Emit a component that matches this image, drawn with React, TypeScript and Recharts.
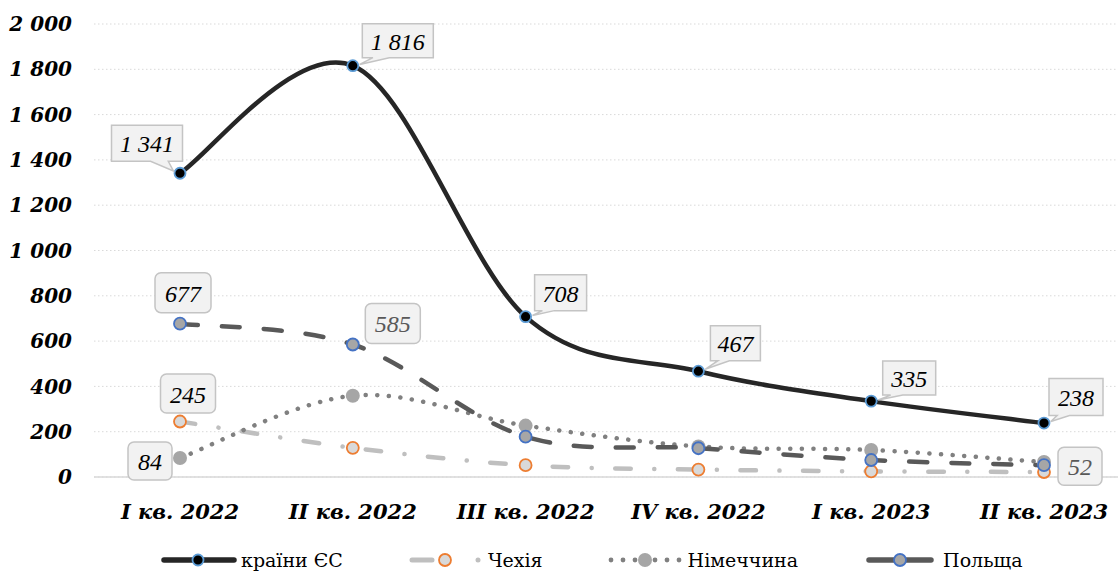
import React from 'react';
import { LineChart, Line, XAxis, YAxis, CartesianGrid, LabelList, Legend } from 'recharts';

const quarters = ['I кв. 2022', 'II кв. 2022', 'III кв. 2022', 'IV кв. 2022', 'I кв. 2023', 'II кв. 2023'];
const euValues = [1341, 1816, 708, 467, 335, 238];
const czechValues = [245, 129, 52, 33, 25, 22];
const germanyValues = [84, 359, 227, 135, 119, 66];
const polandValues = [677, 585, 178, 127, 75, 52];
const yTicks = [0, 200, 400, 600, 800, 1000, 1200, 1400, 1600, 1800, 2000];

const data = quarters.map((q, i) => ({
  quarter: q,
  eu: euValues[i],
  cz: czechValues[i],
  de: germanyValues[i],
  pl: polandValues[i],
}));

const fmt = (v: number) => String(v).replace(/\B(?=(\d{3})+(?!\d))/g, ' ');

// Excel-like smoothed line (Catmull-Rom through the points)
const smoothCurve: any = (context: any) => {
  let pts: number[][] = [];
  return {
    areaStart() {},
    areaEnd() {},
    lineStart() {
      pts = [];
    },
    point(x: number, y: number) {
      pts.push([+x, +y]);
    },
    lineEnd() {
      if (!pts.length) return;
      context.moveTo(pts[0][0], pts[0][1]);
      for (let i = 0; i < pts.length - 1; i++) {
        const p0 = pts[Math.max(i - 1, 0)];
        const p1 = pts[i];
        const p2 = pts[i + 1];
        const p3 = pts[Math.min(i + 2, pts.length - 1)];
        context.bezierCurveTo(
          p1[0] + (p2[0] - p0[0]) / 6,
          p1[1] + (p2[1] - p0[1]) / 6,
          p2[0] - (p3[0] - p1[0]) / 6,
          p2[1] - (p3[1] - p1[1]) / 6,
          p2[0],
          p2[1]
        );
      }
    },
  };
};

type Place = { dx: number; dy: number; w: number; h: number; tail?: boolean; color?: string };

const euPlaces: Record<number, Place> = {
  0: { dx: -33, dy: -30, w: 71, h: 36, tail: true },
  1: { dx: 45, dy: -25, w: 71, h: 34, tail: true },
  2: { dx: 35, dy: -24, w: 52, h: 36, tail: true },
  3: { dx: 37, dy: -28, w: 50, h: 35, tail: true },
  4: { dx: 38, dy: -23, w: 53, h: 34, tail: true },
  5: { dx: 32, dy: -26, w: 54, h: 37, tail: true },
};
const czPlaces: Record<number, Place> = { 0: { dx: 8, dy: -28, w: 55, h: 39 } };
const dePlaces: Record<number, Place> = { 0: { dx: -30, dy: 3, w: 44, h: 38 } };
const plPlaces: Record<number, Place> = {
  0: { dx: 3, dy: -31, w: 56, h: 40 },
  1: { dx: 40, dy: -21, w: 55, h: 40, color: '#595959' },
  5: { dx: 36, dy: 1, w: 44, h: 38, color: '#595959' },
};

const makeLabel = (places: Record<number, Place>) => (props: any) => {
  const p = places[props.index];
  if (!p) return null;
  const x = props.x ?? props.viewBox?.x;
  const y = props.y ?? props.viewBox?.y;
  const cx = x + p.dx;
  const cy = y + p.dy;
  const l = cx - p.w / 2;
  const r = cx + p.w / 2;
  const t = cy - p.h / 2;
  const b = cy + p.h / 2;
  let box;
  if (p.tail) {
    const b1 = p.dx > 0 ? cx - 0.35 * p.w : cx + 0.05 * p.w;
    const b2 = p.dx > 0 ? cx - 0.12 * p.w : cx + 0.3 * p.w;
    const vx = cx - x;
    const vy = b - y;
    const len = Math.sqrt(vx * vx + vy * vy) || 1;
    const tx = x + (vx / len) * 7;
    const ty = y + (vy / len) * 7;
    box = (
      <path
        d={`M${l},${t} H${r} V${b} H${b2} L${tx},${ty} L${b1},${b} H${l} Z`}
        fill="#f2f2f2"
        stroke="#c4c4c4"
        strokeWidth={1.5}
      />
    );
  } else {
    box = <rect x={l} y={t} width={p.w} height={p.h} rx={6} fill="#f2f2f2" stroke="#c4c4c4" strokeWidth={1.5} />;
  }
  return (
    <g>
      {box}
      <text
        x={cx}
        y={cy + 1}
        textAnchor="middle"
        dominantBaseline="central"
        fontFamily="'Liberation Serif', serif"
        fontStyle="italic"
        fontSize={24}
        fill={p.color || '#000'}
      >
        {fmt(props.value)}
      </text>
    </g>
  );
};

const dotEu = (props: any) => (
  <circle key={`eu-${props.index}`} cx={props.cx} cy={props.cy} r={5.5} fill="#000" stroke="#5b9bd5" strokeWidth={1.8} />
);
const dotCz = (props: any) => (
  <circle key={`cz-${props.index}`} cx={props.cx} cy={props.cy} r={6} fill="#d9d9d9" stroke="#ed7d31" strokeWidth={1.8} />
);
const dotDe = (props: any) => (
  <circle key={`de-${props.index}`} cx={props.cx} cy={props.cy} r={7} fill="#a6a6a6" />
);
const dotPl = (props: any) => (
  <circle key={`pl-${props.index}`} cx={props.cx} cy={props.cy} r={6} fill="#a6a6a6" stroke="#4472c4" strokeWidth={1.8} />
);

const iconEu = (
  <svg width={76} height={20}>
    <line x1={3} y1={10} x2={73} y2={10} stroke="#262626" strokeWidth={5.5} strokeLinecap="round" />
    <circle cx={37} cy={10} r={5.5} fill="#000" stroke="#5b9bd5" strokeWidth={1.8} />
  </svg>
);
const iconCz = (
  <svg width={76} height={20}>
    <line x1={4} y1={10} x2={24} y2={10} stroke="#bfbfbf" strokeWidth={5} strokeLinecap="round" />
    <circle cx={37} cy={10} r={6} fill="#d9d9d9" stroke="#ed7d31" strokeWidth={1.8} />
    <circle cx={70} cy={10} r={2.5} fill="#bfbfbf" />
  </svg>
);
const iconDe = (
  <svg width={76} height={20}>
    {[3, 15, 27, 47, 59, 71].map((cx) => (
      <circle key={cx} cx={cx} cy={10} r={2.4} fill="#808080" />
    ))}
    <circle cx={37} cy={10} r={7} fill="#a6a6a6" />
  </svg>
);
const iconPl = (
  <svg width={76} height={20}>
    <line x1={6} y1={10} x2={68} y2={10} stroke="#595959" strokeWidth={5.5} strokeLinecap="round" />
    <circle cx={37} cy={10} r={6} fill="#a6a6a6" stroke="#4472c4" strokeWidth={1.8} />
  </svg>
);

const legendItems = [
  { name: 'країни ЄС', icon: iconEu },
  { name: 'Чехія', icon: iconCz },
  { name: 'Німеччина', icon: iconDe },
  { name: 'Польща', icon: iconPl },
];

const renderLegend = () => (
  <div style={{ width: 1118, height: 40, position: 'relative' }}>
    <div
      style={{
        position: 'absolute',
        top: 18,
        left: 161,
        display: 'flex',
        alignItems: 'center',
        gap: 65,
        height: 20,
      }}
    >
      {legendItems.map((it) => (
        <div key={it.name} style={{ display: 'flex', alignItems: 'center', gap: 4 }}>
          {it.icon}
          <span style={{ fontFamily: "'DejaVu Serif', serif", fontSize: 19, color: '#000', lineHeight: '20px' }}>
            {it.name}
          </span>
        </div>
      ))}
    </div>
  </div>
);

export default function App() {
  return (
    <div style={{ position: 'absolute', left: 0, top: 0, width: 1118, height: 572, background: '#fff' }}>
      <LineChart width={1118} height={572} data={data} margin={{ top: 24, right: 0, left: 0, bottom: 0 }}>
        <CartesianGrid vertical={false} stroke="#d9d9d9" strokeDasharray="1.5 2.5" />
        <XAxis
          dataKey="quarter"
          scale="point"
          padding={{ left: 86, right: 74 }}
          height={55}
          axisLine={{ stroke: '#d9d9d9', strokeWidth: 1.5 }}
          tickLine={false}
          tickSize={0}
          tickMargin={27}
          tick={{ fontFamily: "'DejaVu Serif', serif", fontWeight: 'bold', fontStyle: 'italic', fontSize: 21, fill: '#000' }}
          interval={0}
        />
        <YAxis
          domain={[0, 2000]}
          ticks={yTicks}
          width={94}
          axisLine={false}
          tickLine={false}
          tickSize={0}
          tickMargin={22}
          tickFormatter={fmt}
          tick={{ fontFamily: "'DejaVu Serif', serif", fontWeight: 'bold', fontStyle: 'italic', fontSize: 20, fill: '#000' }}
        />
        <Legend verticalAlign="bottom" content={renderLegend} wrapperStyle={{ left: 0, width: 1118 }} />
        <Line
          dataKey="eu"
          name="країни ЄС"
          type={smoothCurve}
          stroke="#262626"
          strokeWidth={4.5}
          dot={dotEu}
          activeDot={false}
          isAnimationActive={false}
        >
          <LabelList dataKey="eu" content={makeLabel(euPlaces)} />
        </Line>
        <Line
          dataKey="cz"
          name="Чехія"
          type={smoothCurve}
          stroke="#bfbfbf"
          strokeWidth={4.5}
          strokeDasharray="15.5 23.5 0.1 23.5"
          strokeLinecap="round"
          dot={dotCz}
          activeDot={false}
          isAnimationActive={false}
        >
          <LabelList dataKey="cz" content={makeLabel(czPlaces)} />
        </Line>
        <Line
          dataKey="de"
          name="Німеччина"
          type={smoothCurve}
          stroke="#808080"
          strokeWidth={4.5}
          strokeDasharray="0.1 11.5"
          strokeLinecap="round"
          dot={dotDe}
          activeDot={false}
          isAnimationActive={false}
        >
          <LabelList dataKey="de" content={makeLabel(dePlaces)} />
        </Line>
        <Line
          dataKey="pl"
          name="Польща"
          type={smoothCurve}
          stroke="#595959"
          strokeWidth={4.5}
          strokeDasharray="18 24"
          strokeLinecap="round"
          dot={dotPl}
          activeDot={false}
          isAnimationActive={false}
        >
          <LabelList dataKey="pl" content={makeLabel(plPlaces)} />
        </Line>
      </LineChart>
    </div>
  );
}
